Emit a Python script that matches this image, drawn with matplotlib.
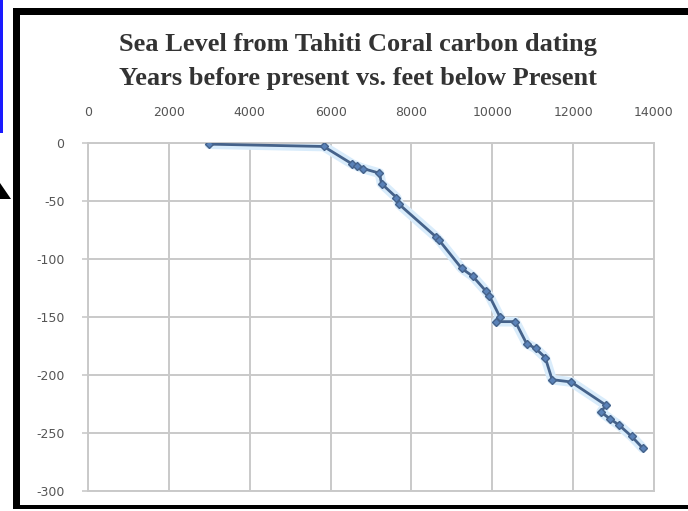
import numpy as np
import matplotlib
matplotlib.use("Agg")
import matplotlib.pyplot as plt
from matplotlib.patches import Rectangle, Polygon

plt.rcParams['axes.unicode_minus'] = False

# --- datos ---
title_lines = ["Sea Level from Tahiti Coral carbon dating",
               "Years before present vs. feet below Present"]
years = [3000, 5830, 6530, 6660, 6800, 7210, 7260, 7630, 7700, 8610, 8690,
         9240, 9520, 9850, 9930, 10190, 10100, 10570, 10850, 11070, 11310,
         11480, 11950, 12810, 12690, 12920, 13130, 13450, 13720]
depth = [-1, -3, -18, -20, -22, -26, -35, -47, -53, -81, -84,
         -108, -115, -128, -132, -150, -154, -154, -173, -177, -185,
         -204, -206, -226, -232, -238, -243, -253, -263]
xticks = [0, 2000, 4000, 6000, 8000, 10000, 12000, 14000]
yticks = [0, -50, -100, -150, -200, -250, -300]

W, H = 688, 511
fig = plt.figure(figsize=(W / 100, H / 100), dpi=100)


def px(x, y):
    # pixeles (origen arriba-izquierda) -> fraccion de figura
    return x / W, 1 - y / H


def rect_px(x0, y0, x1, y1, **kw):
    fx0, fy1 = px(x0, y1)
    fig.add_artist(Rectangle((fx0, fy1), (x1 - x0) / W, (y1 - y0) / H,
                             transform=fig.transFigure, **kw))


# marco negro y adornos del pantallazo
rect_px(13, 8, 20, 509, color='black', lw=0)
rect_px(13, 8, W, 15, color='black', lw=0)
rect_px(13, 505, W, 509, color='black', lw=0)
rect_px(0, 0, 3, 133, color='#1a1aff', lw=0)
tri = [px(0, 183), px(0, 199), px(11, 199)]
fig.add_artist(Polygon(tri, closed=True, transform=fig.transFigure,
                       color='black', lw=0))

# --- ejes ---
x0, x1, ytop, ybot = 88, 654, 143, 491
ax = fig.add_axes([x0 / W, 1 - ybot / H, (x1 - x0) / W, (ybot - ytop) / H])
ax.set_xlim(0, 14000)
ax.set_ylim(-300, 0)

grid_c = '#c9c9c9'
ax.set_xticks(xticks)
ax.set_yticks(yticks)
ax.grid(True, color=grid_c, lw=1.4)
ax.set_axisbelow(True)
for s in ax.spines.values():
    s.set_color(grid_c)
    s.set_linewidth(1.4)

ax.xaxis.tick_top()
ax.tick_params(axis='x', length=0, pad=17, labelsize=9, labelcolor='#555555')
ax.tick_params(axis='y', length=4, width=1.2, color=grid_c, pad=13,
               labelsize=9, labelcolor='#555555')

# halo claro + serie
ax.plot(years, depth, color='#d9ecfb', lw=7, solid_capstyle='round', zorder=2)
ax.plot(years, depth, color='#45628a', lw=2, marker='D', markersize=4.5,
        markerfacecolor='#5a82b8', markeredgecolor='#45628a', zorder=3)

# titulo
for txt, yc in zip(title_lines, [44, 78]):
    fx, fy = px(358, yc)
    fig.text(fx, fy, txt, ha='center', va='center', fontsize=19,
             fontweight='bold', family='Liberation Serif', color='#333333')

fig.savefig('out.png', dpi=100)
